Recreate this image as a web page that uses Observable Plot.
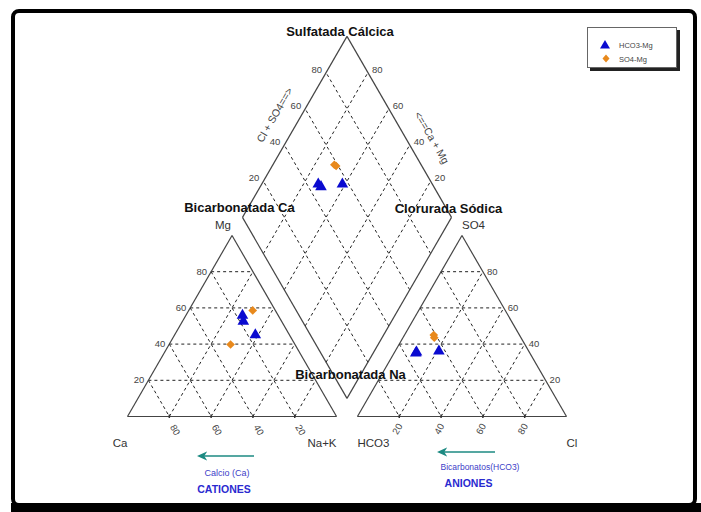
<!DOCTYPE html>
<html><head><meta charset="utf-8">
<script src="https://cdn.jsdelivr.net/npm/d3@7"></script>
<script src="https://cdn.jsdelivr.net/npm/@observablehq/plot@0.6"></script>
<style>
body{margin:0;background:#fff;}
#wrap{position:relative;width:701px;height:512px;overflow:hidden;font-family:"Liberation Sans",Arial,sans-serif;background:#fff;}
#chart svg{display:block;}
.frame{position:absolute;left:11px;top:9px;width:678px;height:490px;border:4px solid #000;border-radius:8px;pointer-events:none;}
.band{position:absolute;left:11px;top:503px;width:690px;height:9px;background:#000;}
.legend{position:absolute;left:587px;top:27px;width:88px;height:39px;border:1px solid #666;box-shadow:3px 3px 0 #222;background:#fff;}
.ov{position:absolute;left:0;top:0;pointer-events:none;}
</style></head>
<body>
<div id="wrap">
  <div id="chart"></div>
  <div class="legend">
    <svg width="88" height="39" style="display:block">
      <path d="M17,12 L22,20.5 L12,20.5 Z" fill="#0a0ad0"/>
      <text x="31" y="19.5" font-size="7.5" fill="#444" font-family="Liberation Sans, Arial">HCO3-Mg</text>
      <path d="M18,26.5 L21.5,30.5 L18,34.5 L14.5,30.5 Z" fill="#e8891c"/>
      <text x="31" y="33.5" font-size="7.5" fill="#444" font-family="Liberation Sans, Arial">SO4-Mg</text>
    </svg>
  </div>
  <svg class="ov" width="701" height="512">
    <defs>
      <marker id="ah" viewBox="0 0 10 10" refX="8" refY="5" markerWidth="7" markerHeight="7" orient="auto">
        <path d="M10,5 L0,0.5 L3,5 L0,9.5 Z" fill="#1c8a82"/>
      </marker>
    </defs>
    <line x1="254" y1="456" x2="199" y2="456" stroke="#1c8a82" stroke-width="1.5" marker-end="url(#ah)"/>
    <line x1="495" y1="452" x2="439" y2="452" stroke="#1c8a82" stroke-width="1.5" marker-end="url(#ah)"/>
    <text x="227" y="476" text-anchor="middle" font-size="9" fill="#4040c8" font-family="Liberation Sans Narrow, Liberation Sans, Arial">Calcio (Ca)</text>
    <text x="224" y="493" text-anchor="middle" font-size="10.5" font-weight="bold" fill="#2a2ad0" font-family="Liberation Sans, Arial">CATIONES</text>
    <text x="480" y="470" text-anchor="middle" font-size="8.5" fill="#4040c8" font-family="Liberation Sans Narrow, Liberation Sans, Arial">Bicarbonatos(HCO3)</text>
    <text x="468.5" y="487" text-anchor="middle" font-size="10.5" font-weight="bold" fill="#2a2ad0" font-family="Liberation Sans, Arial">ANIONES</text>
  </svg>
  <div class="frame"></div>
  <div class="band"></div>
</div>
<script>
// ---- data (meq %) ----
const samples = ["M1", "M2", "M3", "M4", "M5"];
const group   = ["HCO3-Mg", "HCO3-Mg", "HCO3-Mg", "SO4-Mg", "SO4-Mg"];
const ca      = [17.1, 18.3, 16.3, 10.8, 30.8];
const mg      = [55.8, 52.6, 45.1, 58.6, 39.8];
const naK     = [27.1, 29.1, 38.6, 30.6, 29.4];
const hco3    = [54.6, 54.0, 43.0, 41.0, 41.5];
const so4     = [35.0, 35.5, 36.1, 45.0, 43.5];
const cl      = [10.4, 10.5, 20.9, 14.0, 15.0];
const ticks   = [20, 40, 60, 80];

// ---- Piper geometry (triangle side = 100 units) ----
const S = Math.sqrt(3) / 2;
const GAP = 10;
const cat = (c, m, n) => [n + m / 2, m * S];
const an = (h, s, c) => [100 + GAP + c + s / 2, s * S];
const dia = (cm, cs) => [100 + GAP / 2 + (cs - cm) / 2, GAP * S + (cm + cs) * S];

const seg = (a, b) => ({x1: a[0], y1: a[1], x2: b[0], y2: b[1]});
const outline = [
  seg(cat(100,0,0), cat(0,0,100)), seg(cat(0,0,100), cat(0,100,0)), seg(cat(0,100,0), cat(100,0,0)),
  seg(an(100,0,0), an(0,0,100)), seg(an(0,0,100), an(0,100,0)), seg(an(0,100,0), an(100,0,0)),
  seg(dia(0,0), dia(100,0)), seg(dia(100,0), dia(100,100)), seg(dia(100,100), dia(0,100)), seg(dia(0,100), dia(0,0))
];
const grid = [];
for (const t of ticks) {
  grid.push(seg(cat(100-t,t,0), cat(0,t,100-t)));
  grid.push(seg(cat(t,100-t,0), cat(t,0,100-t)));
  grid.push(seg(cat(100-t,0,t), cat(0,100-t,t)));
  grid.push(seg(an(100-t,t,0), an(0,t,100-t)));
  grid.push(seg(an(t,100-t,0), an(t,0,100-t)));
  grid.push(seg(an(100-t,0,t), an(0,100-t,t)));
  grid.push(seg(dia(t,0), dia(t,100)));
  grid.push(seg(dia(0,t), dia(100,t)));
}
const pt = (p, extra) => ({x: p[0], y: p[1], ...extra});

const catBase = ticks.map(t => pt(cat(t,0,100-t), {t}));
const anBase  = ticks.map(t => pt(an(100-t,0,t), {t}));
const catLeft = ticks.map(t => pt(cat(100-t,t,0), {t}));
const anRight = ticks.map(t => pt(an(0,t,100-t), {t}));
const diaLeft = ticks.map(t => pt(dia(100,t), {t}));
const diaRight= ticks.map(t => pt(dia(t,100), {t}));

const points = [];
samples.forEach((s, i) => {
  const g = group[i];
  points.push(pt(cat(ca[i], mg[i], naK[i]), {g}));
  points.push(pt(an(hco3[i], so4[i], cl[i]), {g}));
  points.push(pt(dia(ca[i] + mg[i], cl[i] + so4[i]), {g}));
});
const blue = points.filter(d => d.g === "HCO3-Mg");
const orange = points.filter(d => d.g === "SO4-Mg");

const tickSym = {draw(ctx, size) { ctx.moveTo(0, -2); ctx.lineTo(0, 1.5); }};
const font = "Liberation Sans, Arial, sans-serif";
const tl = {fontSize: 9.5, fill: "#444", fontFamily: font};
const corner = {fontSize: 11.5, fill: "#333", fontFamily: font};
const region = {fontSize: 13, fontWeight: "bold", fill: "#111", fontFamily: font};

const chart = Plot.plot({
  width: 701, height: 512, margin: 0,
  x: {type: "linear", domain: [0, 210], range: [127, 566]},
  y: {type: "linear", domain: [0, 100 * S], range: [416, 416 - 2.09 * 100 * S]},
  style: {background: "transparent"},
  marks: [
    Plot.link(grid, {x1: "x1", y1: "y1", x2: "x2", y2: "y2", stroke: "#222", strokeWidth: 1, strokeDasharray: "3,3"}),
    Plot.link(outline, {x1: "x1", y1: "y1", x2: "x2", y2: "y2", stroke: "#444", strokeWidth: 1.2}),
    Plot.dot([...catBase, ...anBase], {x: "x", y: "y", symbol: tickSym, r: 2, stroke: "#333", strokeWidth: 1.5}),
    Plot.text(catBase, {x: "x", y: "y", text: d => String(d.t), rotate: 60, textAnchor: "start", dx: 3, dy: 9, ...tl}),
    Plot.text(anBase, {x: "x", y: "y", text: d => String(d.t), rotate: -60, textAnchor: "end", dx: 1, dy: 8, ...tl}),
    Plot.text(catLeft, {x: "x", y: "y", text: d => String(d.t), textAnchor: "end", dx: -4, ...tl}),
    Plot.text(anRight, {x: "x", y: "y", text: d => String(d.t), textAnchor: "start", dx: 4, ...tl}),
    Plot.text(diaLeft, {x: "x", y: "y", text: d => String(d.t), textAnchor: "end", dx: -4, dy: -3, ...tl}),
    Plot.text(diaRight, {x: "x", y: "y", text: d => String(d.t), textAnchor: "start", dx: 4, dy: -3, ...tl}),
    Plot.text([pt(dia(100,56), {s: "Cl + SO4==>"})], {x: "x", y: "y", text: "s", rotate: -60, dx: -26, dy: -1, fontSize: 10.5, fill: "#444", fontFamily: font}),
    Plot.text([pt(dia(44,100), {s: "<==Ca + Mg"})], {x: "x", y: "y", text: "s", rotate: 60, dx: 26, dy: 0, fontSize: 10.5, fill: "#444", fontFamily: font}),
    Plot.text([pt(cat(100,0,0), {s: "Ca"})], {x: "x", y: "y", text: "s", textAnchor: "end", dy: 27, ...corner}),
    Plot.text([pt(cat(0,0,100), {s: "Na+K"})], {x: "x", y: "y", text: "s", textAnchor: "end", dy: 27, ...corner}),
    Plot.text([pt(cat(0,100,0), {s: "Mg"})], {x: "x", y: "y", text: "s", textAnchor: "end", dx: -1, dy: -10, ...corner}),
    Plot.text([pt(an(100,0,0), {s: "HCO3"})], {x: "x", y: "y", text: "s", textAnchor: "start", dy: 27, ...corner}),
    Plot.text([pt(an(0,0,100), {s: "Cl"})], {x: "x", y: "y", text: "s", textAnchor: "start", dy: 27, ...corner}),
    Plot.text([pt(an(0,100,0), {s: "SO4"})], {x: "x", y: "y", text: "s", textAnchor: "start", dy: -10, ...corner}),
    Plot.text([pt(dia(100,100), {s: "Sulfatada Cálcica"})], {x: "x", y: "y", text: "s", dx: -7, dy: -5, ...region}),
    Plot.text([pt(dia(100,0), {s: "Bicarbonatada Ca"})], {x: "x", y: "y", text: "s", dx: -3, dy: -10, ...region}),
    Plot.text([pt(dia(0,100), {s: "Clorurada Sódica"})], {x: "x", y: "y", text: "s", dx: -3, dy: -9, ...region}),
    Plot.text([pt(dia(0,0), {s: "Bicarbonatada Na"})], {x: "x", y: "y", text: "s", dx: 3.5, dy: -24, ...region}),
    Plot.dot(blue, {x: "x", y: "y", symbol: "triangle", r: 4.3, fill: "#0a0ad0"}),
    Plot.dot(orange, {x: "x", y: "y", symbol: "diamond2", r: 3.9, fill: "#e8891c"})
  ]
});
document.getElementById("chart").appendChild(chart);
</script>
</body></html>
